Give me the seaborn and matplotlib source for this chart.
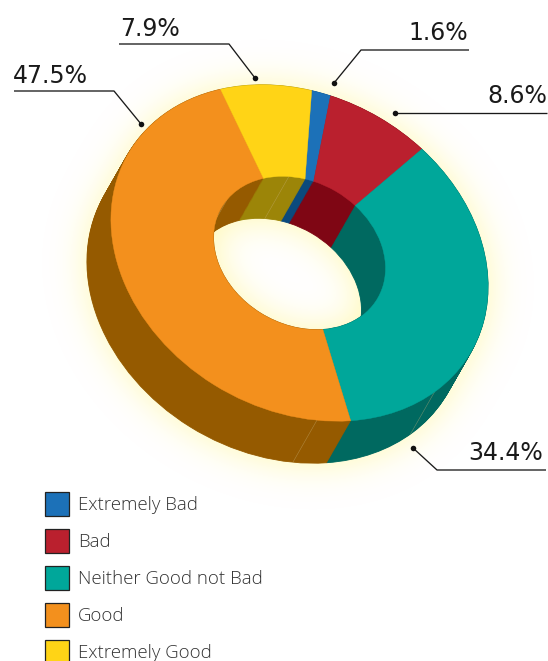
import numpy as np
import matplotlib
matplotlib.use("Agg")
import matplotlib.pyplot as plt
from matplotlib.patches import Patch
from matplotlib.transforms import Affine2D
import seaborn as sns

categories = ["Extremely Bad", "Bad", "Neither Good not Bad", "Good", "Extremely Good"]
values = [1.6, 8.6, 34.4, 47.5, 7.9]
top_colors = ["#1C71B8", "#BA202E", "#00A79A", "#F3901D", "#FFD416"]
wall_colors = ["#0B4A7D", "#7F0614", "#006960", "#955A00", "#9C8508"]
value_labels = ["1.6%", "8.6%", "34.4%", "47.5%", "7.9%"]

CX, CY, A, B, TILT = 299.5, 253, 198, 157, 30
DX, DY, DEPTH = -24, 42, 48
HOLE = 0.456
START = -110.9

sns.set_theme(style="white")
W, H = 548, 661
fig = plt.figure(figsize=(W / 100, H / 100), dpi=100, facecolor="white")
ax = fig.add_axes([0, 0, 1, 1])


def ring_transform(t=0.0):
    return (Affine2D().scale(A, B).rotate_deg(TILT)
            .translate(CX + DX * t, CY + DY * t))


def draw_ring(colors, t, lw, z):
    palette = sns.color_palette(colors)
    wedges, _ = ax.pie(values, colors=palette, startangle=START,
                       counterclock=True, radius=1,
                       wedgeprops=dict(width=1 - HOLE, linewidth=lw, zorder=z))
    tr = ring_transform(t) + ax.transData
    for w, col in zip(wedges, palette):
        w.set_edgecolor(col)
        w.set_transform(tr)
    return wedges


# soft glow behind the ring
yy, xx = np.mgrid[0:H, 0:W]
mask = np.zeros((H, W))
c, s = np.cos(np.radians(TILT)), np.sin(np.radians(TILT))
for t in np.linspace(0, 1, DEPTH):
    x0 = xx - (CX + DX * t)
    y0 = yy - (CY + DY * t)
    u = (x0 * c + y0 * s) / A
    v = (-x0 * s + y0 * c) / B
    r = np.hypot(u, v)
    mask = np.maximum(mask, ((r <= 1) & (r >= HOLE)).astype(float))
sigma = 18
fy = np.fft.fftfreq(H)[:, None]
fx = np.fft.rfftfreq(W)[None, :]
blur = np.fft.irfft2(np.fft.rfft2(mask) * np.exp(-2 * (np.pi * sigma) ** 2 * (fx ** 2 + fy ** 2)), s=(H, W))
glow = np.zeros((H, W, 4))
glow[..., 0] = 1.0
glow[..., 1] = 0.97
glow[..., 2] = 0.62
glow[..., 3] = np.clip(blur * 0.8, 0, 0.7)
ax.imshow(glow, extent=(0, W, H, 0), zorder=0, interpolation="bilinear")

# extruded walls, bottom layer first
for i, t in enumerate(np.linspace(1, 0, DEPTH)):
    draw_ring(wall_colors, t, 0.6, 1 + i * 0.001)

# faint seams on the walls
seam_angles = [60.1, 19.7, -121.7, 188.0]
seam_radii = [1.0, 1.0, HOLE, HOLE]
for ang, rad in zip(seam_angles, seam_radii):
    p = [rad * np.cos(np.radians(ang)), rad * np.sin(np.radians(ang))]
    a = ring_transform(0).transform(p)
    b = ring_transform(1).transform(p)
    ax.plot([a[0], b[0]], [a[1], b[1]], color="#C9B27A", lw=0.4, alpha=0.5, zorder=2)

# top face
draw_ring(top_colors, 0, 0.3, 3)

ax.set_aspect("auto")
ax.set_xlim(0, W)
ax.set_ylim(H, 0)
ax.axis("off")

# leader lines and value labels
leaders = [
    ([334, 361, 469], [83, 50, 50]),
    ([395, 547], [113, 113]),
    ([413, 437, 546], [448, 470, 470]),
    ([141, 114, 14], [124, 91, 91]),
    ([255, 229, 119], [78, 44, 44]),
]
label_x = [468, 547, 543, 88, 180]
label_y = [40, 103, 460, 83, 36]
for (lx, ly), tx, ty, txt in zip(leaders, label_x, label_y, value_labels):
    ax.plot(lx, ly, color="#1a1a1a", lw=0.95, zorder=5, solid_capstyle="butt")
    ax.scatter(lx[0], ly[0], s=16, color="#111111", linewidths=0, zorder=6)
    ax.text(tx, ty, txt, ha="right", va="baseline", fontsize=17,
            family="DejaVu Sans", color="#1a1a1a", zorder=6)

# legend
handles = [Patch(facecolor=col, edgecolor="#222222", linewidth=0.9, label=lab)
           for col, lab in zip(top_colors, categories)]
ax.legend(handles=handles, loc="upper left", bbox_to_anchor=(45, 492),
          bbox_transform=ax.transData, frameon=False, borderpad=0, borderaxespad=0,
          handlelength=1.29, handleheight=1.6, handletextpad=0.5, labelspacing=0.7,
          prop=dict(family="Open Sans", weight="light", size=13.4), labelcolor="#333333")

fig.savefig("out.png", dpi=100, facecolor="white")
